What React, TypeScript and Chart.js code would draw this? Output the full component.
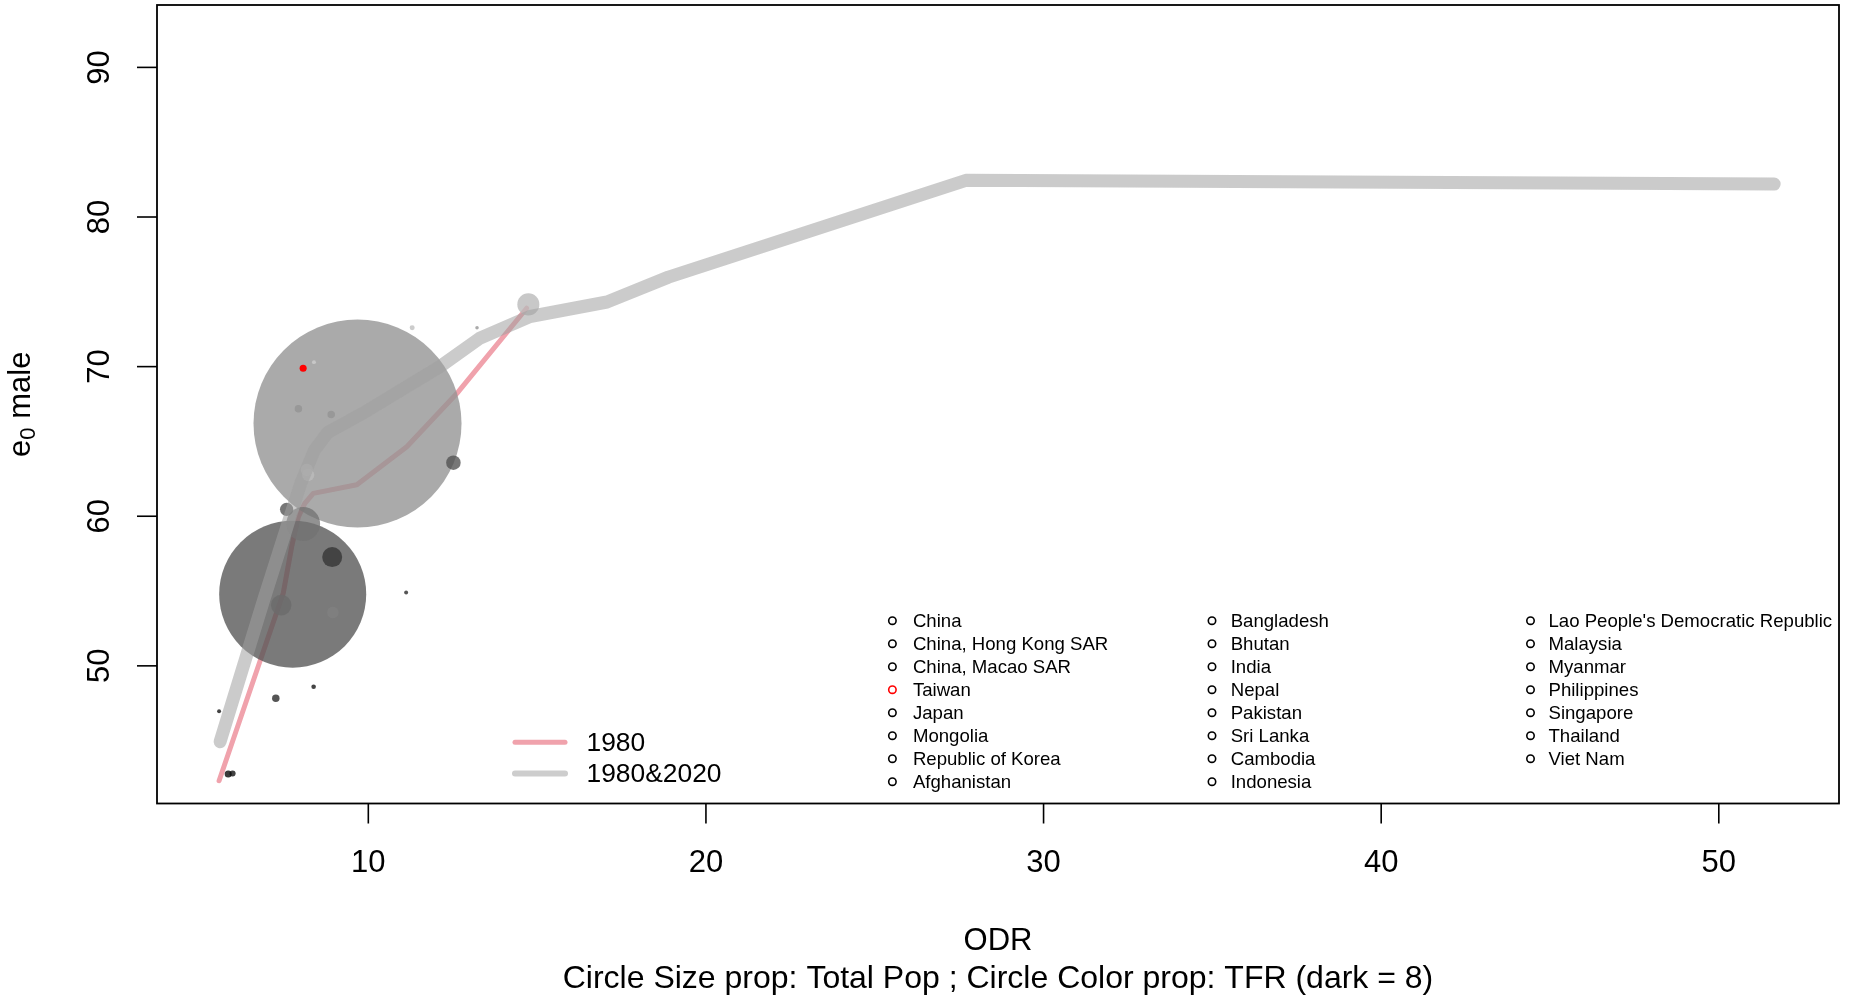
import React, { useEffect, useRef } from "react";
import { Chart, registerables } from "chart.js";

Chart.register(...registerables);

const FONT = '"Liberation Sans", Arial, Helvetica, sans-serif';

// Countries, in legend order
const countries = [
  "China", "China, Hong Kong SAR", "China, Macao SAR", "Taiwan", "Japan", "Mongolia",
  "Republic of Korea", "Afghanistan", "Bangladesh", "Bhutan", "India", "Nepal",
  "Pakistan", "Sri Lanka", "Cambodia", "Indonesia", "Lao People's Democratic Republic",
  "Malaysia", "Myanmar", "Philippines", "Singapore", "Thailand", "Viet Nam",
];
// Old-age dependency ratio per country
const odr = [
  9.68, 11.3, 13.22, 8.07, 14.74, 11.12,
  8.22, 5.85, 8.93, 5.58, 7.76, 5.98,
  7.42, 8.9, 8.38, 8.07, 8.95,
  7.93, 7.26, 12.52, 8.39, 8.18, 7.58,
];
// Male life expectancy at birth
const e0Male = [
  66.2, 72.6, 72.6, 69.89, 74.16, 54.9,
  62.75, 42.77, 57.27, 46.96, 54.79, 42.81,
  54.06, 66.8, 48.6, 59.48, 53.57,
  67.19, 47.83, 63.58, 70.3, 63.1, 60.46,
];
// Total population (millions)
const totalPop = [
  1000, 24, 17, 34, 106, 19,
  58, 34, 96, 19, 707, 29,
  99, 36, 22, 163, 55,
  36, 36, 70, 19, 58, 64,
];
// Total fertility rate
const tfrValues = [
  3.42, 2.05, 3.42, 3.2, 2.21, 6.84,
  2.1, 7.9, 6.34, 7.5, 5.35, 7.6,
  4.65, 3.35, 7.5, 4.4, 3.93,
  3.35, 6.84, 5.47, 1.46, 2.1, 5.47,
];
const highlighted = "Taiwan";

// Trajectory lines
const line1980Odr = [5.58, 7.48, 7.73, 7.93, 8.12, 8.37, 9.66, 11.14, 12.62, 13.11, 14.69];
const line1980E0 = [42.32, 54.85, 57.96, 59.97, 60.86, 61.53, 62.1, 64.65, 68.2, 69.55, 73.9];
const lineBothOdr = [5.61, 6.9, 8.0, 8.4, 8.8, 9.85, 12.12, 13.3, 14.79, 17.07, 18.89, 27.7, 51.64];
const lineBothE0 = [44.93, 54.4, 62.2, 64.4, 65.6, 66.9, 70.0, 71.9, 73.35, 74.32, 75.98, 82.45, 82.2];

const xTicks = [10, 20, 30, 40, 50];
const yTicks = [50, 60, 70, 80, 90];
const X_RANGE = [3.741, 53.56];
const Y_RANGE = [40.8, 94.17];

const lineLegend = ["1980", "1980&2020"];
const subtitle = "Circle Size prop: Total Pop ; Circle Color prop: TFR (dark = 8)";

const PINK = "#f0a2ac";
const GRAY_LINE = "rgba(160,160,160,0.55)";
const BUBBLE_ALPHA = 0.78;
const RADIUS_PER_MILLION = 0.104;

function tfrColor(tfr: number): string {
  const g = Math.round(255 * Math.max(0, Math.min(1, 1 - tfr / 8)));
  return `rgba(${g},${g},${g},${BUBBLE_ALPHA})`;
}

const decorations = {
  id: "decorations",
  afterDatasetsDraw(chart: any) {
    const { ctx, chartArea: a, scales } = chart;
    const x = scales.x;
    const y = scales.y;
    ctx.save();

    // frame
    ctx.strokeStyle = "#000";
    ctx.lineWidth = 1.8;
    ctx.strokeRect(a.left, a.top, a.right - a.left, a.bottom - a.top);

    // ticks
    ctx.fillStyle = "#000";
    ctx.font = `31px ${FONT}`;
    ctx.textAlign = "center";
    ctx.textBaseline = "middle";
    ctx.lineWidth = 1.6;
    xTicks.forEach((v) => {
      const px = x.getPixelForValue(v);
      ctx.beginPath();
      ctx.moveTo(px, a.bottom);
      ctx.lineTo(px, a.bottom + 20);
      ctx.stroke();
      ctx.fillText(String(v), px, a.bottom + 60);
    });
    yTicks.forEach((v) => {
      const py = y.getPixelForValue(v);
      ctx.beginPath();
      ctx.moveTo(a.left - 20, py);
      ctx.lineTo(a.left, py);
      ctx.stroke();
      ctx.save();
      ctx.translate(a.left - 57, py);
      ctx.rotate(-Math.PI / 2);
      ctx.fillText(String(v), 0, 0);
      ctx.restore();
    });

    // axis titles
    const cx = (a.left + a.right) / 2;
    const cy = (a.top + a.bottom) / 2;
    ctx.fillText("ODR", cx, 941);
    ctx.font = `32px ${FONT}`;
    ctx.fillText(subtitle, cx, 979.5);

    ctx.save();
    ctx.translate(29.5, cy);
    ctx.rotate(-Math.PI / 2);
    ctx.textBaseline = "alphabetic";
    ctx.textAlign = "left";
    const mainFont = `31px ${FONT}`;
    const subFont = `22px ${FONT}`;
    ctx.font = mainFont;
    const wE = ctx.measureText("e").width;
    const wRest = ctx.measureText(" male").width;
    ctx.font = subFont;
    const wSub = ctx.measureText("0").width;
    let tx = -(wE + wSub + wRest) / 2;
    ctx.font = mainFont;
    ctx.fillText("e", tx, 0);
    tx += wE;
    ctx.font = subFont;
    ctx.fillText("0", tx, 5);
    tx += wSub;
    ctx.font = mainFont;
    ctx.fillText(" male", tx, 0);
    ctx.restore();

    // line legend
    ctx.lineCap = "round";
    const legendRows = [
      { color: PINK, width: 5, y: 742.3 },
      { color: "#cdcdcd", width: 6, y: 773.5 },
    ];
    ctx.font = `26.4px ${FONT}`;
    ctx.textAlign = "left";
    ctx.textBaseline = "middle";
    legendRows.forEach((row, i) => {
      ctx.strokeStyle = row.color;
      ctx.lineWidth = row.width;
      ctx.beginPath();
      ctx.moveTo(515, row.y);
      ctx.lineTo(565, row.y);
      ctx.stroke();
      ctx.fillStyle = "#000";
      ctx.fillText(lineLegend[i], 586.5, row.y + 1.5);
    });

    // country legend, three columns of eight
    const colCircle = [892.4, 1212, 1530.5];
    const colText = [912.9, 1230.7, 1548.5];
    ctx.font = `18.6px ${FONT}`;
    ctx.lineWidth = 1.6;
    countries.forEach((name, i) => {
      const col = Math.floor(i / 8);
      const row = i % 8;
      const ry = 620.7 + row * 23.0;
      const isHi = name === highlighted;
      ctx.strokeStyle = isHi ? "#ff0000" : "#000";
      ctx.beginPath();
      ctx.arc(colCircle[col], ry, 3.7, 0, Math.PI * 2);
      ctx.stroke();
      ctx.fillStyle = "#000";
      ctx.fillText(name, colText[col], ry + 1);
    });

    ctx.restore();
  },
};

export default function App() {
  const canvasRef = useRef<HTMLCanvasElement | null>(null);

  useEffect(() => {
    const canvas = canvasRef.current;
    if (!canvas) return;

    // larger bubbles first so small ones stay visible on top
    const order = countries.map((_, i) => i).sort((p, q) => totalPop[q] - totalPop[p]);
    const bubbles = order.map((i) => ({ x: odr[i], y: e0Male[i], r: totalPop[i] * RADIUS_PER_MILLION }));
    const bubbleColors = order.map((i) =>
      countries[i] === highlighted ? "rgb(255,0,0)" : tfrColor(tfrValues[i])
    );

    const chart = new Chart(canvas, {
      type: "scatter",
      data: {
        datasets: [
          {
            type: "line",
            label: lineLegend[0],
            data: line1980Odr.map((v, i) => ({ x: v, y: line1980E0[i] })),
            borderColor: PINK,
            borderWidth: 5,
            borderCapStyle: "round",
            borderJoinStyle: "round",
            pointRadius: 0,
            tension: 0,
            fill: false,
            order: 3,
          } as any,
          {
            type: "bubble",
            label: "countries",
            data: bubbles,
            backgroundColor: bubbleColors,
            borderWidth: 0,
            hoverRadius: 0,
            order: 2,
          } as any,
          {
            type: "line",
            label: lineLegend[1],
            data: lineBothOdr.map((v, i) => ({ x: v, y: lineBothE0[i] })),
            borderColor: GRAY_LINE,
            borderWidth: 13,
            borderCapStyle: "round",
            borderJoinStyle: "round",
            pointRadius: 0,
            tension: 0,
            fill: false,
            order: 1,
          } as any,
        ],
      },
      options: {
        animation: false,
        responsive: false,
        events: [],
        layout: { autoPadding: false, padding: { left: 157, top: 5, right: 14, bottom: 196.5 } },
        scales: {
          x: { type: "linear", min: X_RANGE[0], max: X_RANGE[1], display: false },
          y: { type: "linear", min: Y_RANGE[0], max: Y_RANGE[1], display: false },
        },
        plugins: {
          legend: { display: false },
          tooltip: { enabled: false },
        },
      },
      plugins: [decorations],
    });

    return () => chart.destroy();
  }, []);

  return (
    <div style={{ position: "fixed", left: 0, top: 0, width: 1853, height: 1000, background: "#fff" }}>
      <canvas ref={canvasRef} width={1853} height={1000} style={{ width: 1853, height: 1000 }} />
    </div>
  );
}
